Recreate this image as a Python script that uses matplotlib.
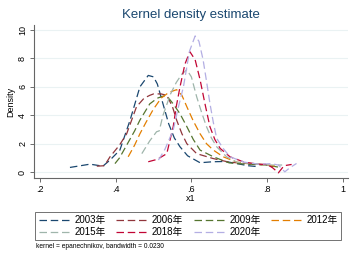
import matplotlib
matplotlib.use("Agg")
import matplotlib.pyplot as plt

plt.rcParams['font.family'] = ['Liberation Sans', 'Noto Sans CJK SC']

# Kernel density curves (x1, density)
yr2003_x = [0.279, 0.30, 0.332, 0.366, 0.385, 0.411, 0.438, 0.464, 0.486, 0.50, 0.51, 0.525, 0.54,
            0.555, 0.57, 0.59, 0.623, 0.657, 0.69, 0.72, 0.75, 0.77]
yr2003_y = [0.33, 0.42, 0.56, 0.42, 0.85, 1.55, 3.66, 6.0, 6.8, 6.7, 6.2, 4.8, 3.4,
            2.4, 1.78, 1.15, 0.66, 0.73, 0.75, 0.6, 0.45, 0.4]

yr2006_x = [0.35, 0.37, 0.385, 0.41, 0.429, 0.455, 0.475, 0.49, 0.50, 0.52, 0.535, 0.55, 0.561,
            0.575, 0.588, 0.614, 0.657, 0.70, 0.75, 0.80, 0.82]
yr2006_y = [0.42, 0.45, 1.08, 1.9, 2.7, 4.6, 5.2, 5.4, 5.5, 5.5, 5.4, 4.6, 3.66,
            2.7, 2.0, 1.3, 0.96, 0.7, 0.6, 0.5, 0.35]

yr2009_x = [0.398, 0.41, 0.429, 0.45, 0.464, 0.49, 0.51, 0.526, 0.54, 0.552, 0.57, 0.588, 0.605,
            0.623, 0.658, 0.70, 0.75, 0.80, 0.83]
yr2009_y = [0.6, 1.0, 1.9, 2.9, 3.66, 4.8, 5.2, 5.35, 5.2, 4.8, 4.1, 3.2, 2.3,
            1.55, 1.08, 0.65, 0.55, 0.5, 0.35]

yr2012_x = [0.433, 0.45, 0.464, 0.48, 0.499, 0.52, 0.54, 0.561, 0.575, 0.588, 0.605, 0.623, 0.64,
            0.658, 0.684, 0.72, 0.76, 0.80, 0.83]
yr2012_y = [1.08, 1.9, 2.7, 3.5, 4.4, 5.2, 5.6, 5.8, 5.4, 4.6, 3.6, 2.7, 2.0,
            1.55, 1.08, 0.7, 0.6, 0.5, 0.4]

yr2015_x = [0.469, 0.49, 0.508, 0.515, 0.525, 0.545, 0.56, 0.575, 0.588, 0.60, 0.614, 0.627, 0.64,
            0.653, 0.667, 0.693, 0.72, 0.76, 0.80, 0.84]
yr2015_y = [1.3, 2.2, 2.84, 2.9, 4.0, 5.5, 6.3, 6.9, 7.2, 6.7, 5.3, 4.2, 3.2,
            2.4, 1.78, 1.08, 0.7, 0.6, 0.5, 0.5]

yr2018_x = [0.486, 0.51, 0.535, 0.552, 0.56, 0.57, 0.583, 0.596, 0.61, 0.623, 0.636, 0.649, 0.662,
            0.676, 0.702, 0.74, 0.78, 0.80, 0.815, 0.83, 0.845, 0.865]
yr2018_y = [0.73, 0.9, 1.3, 3.2, 4.6, 6.0, 7.6, 8.47, 7.9, 6.5, 4.8, 3.2, 2.3,
            1.67, 1.08, 0.7, 0.55, 0.55, 0.3, -0.05, 0.45, 0.54]

yr2020_x = [0.513, 0.53, 0.552, 0.565, 0.579, 0.595, 0.61, 0.62, 0.631, 0.64, 0.649, 0.658, 0.667,
            0.684, 0.702, 0.74, 0.78, 0.81, 0.83, 0.847, 0.86, 0.878]
yr2020_y = [0.85, 1.6, 2.96, 4.5, 6.0, 8.5, 9.58, 9.2, 7.9, 6.4, 4.84, 3.5, 2.37,
            1.67, 1.08, 0.7, 0.55, 0.6, 0.5, 0.02, 0.3, 0.61]

labels = ['2003年', '2006年', '2009年', '2012年', '2015年', '2018年', '2020年']
series = [(yr2003_x, yr2003_y), (yr2006_x, yr2006_y), (yr2009_x, yr2009_y),
          (yr2012_x, yr2012_y), (yr2015_x, yr2015_y), (yr2018_x, yr2018_y),
          (yr2020_x, yr2020_y)]
colors = ['#1a476f', '#90353b', '#55752f', '#e37e00', '#9fb5ab', '#c10534', '#b3aee3']

xticks = [0.2, 0.4, 0.6, 0.8, 1.0]
xticklabels = ['.2', '.4', '.6', '.8', '1']
yticks = [0, 2, 4, 6, 8, 10]

fig = plt.figure(figsize=(3.58, 2.6), dpi=100)
fig.patch.set_facecolor('white')
ax = fig.add_axes([0.095, 0.315, 0.877, 0.589])

lines = []
for (xs, ys), lab, col in zip(series, labels, colors):
    ln, = ax.plot(xs, ys, color=col, lw=0.9, dashes=(6, 3), label=lab)
    lines.append(ln)

ax.set_xlim(0.184, 1.014)
ax.set_ylim(-0.42, 10.35)
ax.set_xticks(xticks)
ax.set_xticklabels(xticklabels)
ax.set_yticks(yticks)
ax.set_yticklabels([str(v) for v in yticks], rotation=90, va='center')
ax.tick_params(labelsize=6.5, length=3, width=0.6, color='#555555', pad=2)
ax.grid(axis='y', color='#eaf2f3', lw=0.8)
ax.set_axisbelow(True)
for s in ['top', 'right']:
    ax.spines[s].set_visible(False)
for s in ['left', 'bottom']:
    ax.spines[s].set_color('#666666')
    ax.spines[s].set_linewidth(0.8)
ax.set_xlabel('x1', fontsize=6.5, labelpad=0)
ax.set_ylabel('Density', fontsize=6.5, labelpad=2)
ax.set_title('Kernel density estimate', fontsize=9.5, color='#1a476f', pad=5)

# row-wise order for a 4-column legend
order = [0, 4, 1, 5, 2, 6, 3]
leg = fig.legend([lines[i] for i in order], [labels[i] for i in order],
                 loc='upper left', bbox_to_anchor=(0.085, 0.205), ncol=4,
                 fontsize=7, handlelength=3.2, handletextpad=0.45,
                 columnspacing=1.1, labelspacing=0.2, borderpad=0.35,
                 frameon=True, fancybox=False, edgecolor='#333333')
leg.get_frame().set_linewidth(0.6)

fig.text(0.1, 0.045, 'kernel = epanechnikov, bandwidth = 0.0230', fontsize=4.8)

fig.savefig('out.png', dpi=100)
